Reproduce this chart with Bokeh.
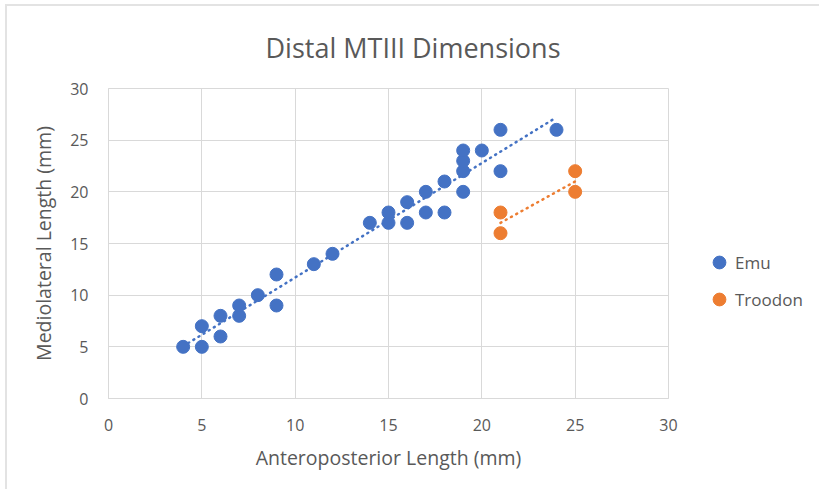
import numpy as np
from bokeh.plotting import figure
from bokeh.models import Legend, LegendItem, FixedTicker, Range1d
from bokeh.embed import file_html
from bokeh.resources import INLINE

emu_x = [4, 5, 5, 6, 6, 7, 7, 8, 9, 9, 11, 12, 14, 15, 15, 16, 16, 17, 17, 18, 18, 19, 19, 19, 19, 20, 21, 21, 24]
emu_y = [5, 5, 7, 6, 8, 8, 9, 10, 9, 12, 13, 14, 17, 17, 18, 17, 19, 18, 20, 18, 21, 20, 22, 23, 24, 24, 22, 26, 26]
troodon_x = [21, 21, 25, 25]
troodon_y = [16, 18, 20, 22]
x_ticks = [0, 5, 10, 15, 20, 25, 30]
y_ticks = [0, 5, 10, 15, 20, 25, 30]

BLUE = "#4472C4"
ORANGE = "#ED7D31"
TXT = "#595959"
GRID = "#D9D9D9"
FONT = "Open Sans"

p = figure(frame_width=560, frame_height=310, output_backend="svg", toolbar_location=None,
           x_range=Range1d(0, 30), y_range=Range1d(0, 30),
           min_border_left=101, min_border_right=151, min_border_top=82, min_border_bottom=91,
           styles={"margin-left": "5px", "margin-top": "4px",
                   "border-top": "2px solid #E3E3E3", "border-left": "2px solid #E3E3E3"})

p.title.text = "Distal MTIII Dimensions"
p.title.align = "left"
p.title.offset = 157
p.title.standoff = 42
p.title.vertical_align = "top"
p.title.text_font = FONT
p.title.text_font_size = "27px"
p.title.text_font_style = "normal"
p.title.text_color = TXT

p.outline_line_color = GRID
p.xgrid.grid_line_color = GRID
p.ygrid.grid_line_color = GRID
p.xaxis.ticker = FixedTicker(ticks=x_ticks)
p.yaxis.ticker = FixedTicker(ticks=y_ticks)
for ax in (p.xaxis[0], p.yaxis[0]):
    ax.axis_line_color = GRID
    ax.major_tick_line_color = None
    ax.minor_tick_line_color = None
    ax.major_label_text_font = FONT
    ax.major_label_text_font_size = "16px"
    ax.major_label_text_color = TXT
    ax.axis_label_text_font = FONT
    ax.axis_label_text_font_size = "19.5px"
    ax.axis_label_text_font_style = "normal"
    ax.axis_label_text_color = TXT
p.xaxis.axis_label = "Anteroposterior Length (mm)"
p.yaxis.axis_label = "Mediolateral Length (mm)"
p.xaxis.major_label_standoff = 14
p.yaxis.major_label_standoff = 14
p.xaxis.axis_label_standoff = 10
p.yaxis.axis_label_standoff = 10

# trendlines (least squares)
ex = np.array(emu_x, float); ey = np.array(emu_y, float)
m1, b1 = np.polyfit(ex, ey, 1)
tx = np.array(troodon_x, float); ty = np.array(troodon_y, float)
m2, b2 = np.polyfit(tx, ty, 1)
xe = [ex.min(), ex.max()]
xt = [tx.min(), tx.max()]
p.line(xe, [m1 * v + b1 for v in xe], line_color=BLUE, line_width=2.5, line_dash="1 5", line_cap="round")
p.line(xt, [m2 * v + b2 for v in xt], line_color=ORANGE, line_width=2.5, line_dash="1 5", line_cap="round")

r1 = p.scatter(emu_x, emu_y, size=13, fill_color=BLUE, line_color=BLUE)
r2 = p.scatter(troodon_x, troodon_y, size=13, fill_color=ORANGE, line_color=ORANGE)

legend = Legend(items=[LegendItem(label="Emu", renderers=[r1]),
                       LegendItem(label="Troodon", renderers=[r2])],
                location=(35, 83), border_line_color=None, background_fill_alpha=0,
                label_text_font=FONT, label_text_font_size="17px", label_text_color=TXT,
                glyph_width=32, glyph_height=32, spacing=5, label_standoff=-9, padding=0, margin=0)
p.add_layout(legend, "right")

open("out.html", "w").write(file_html(p, INLINE))
